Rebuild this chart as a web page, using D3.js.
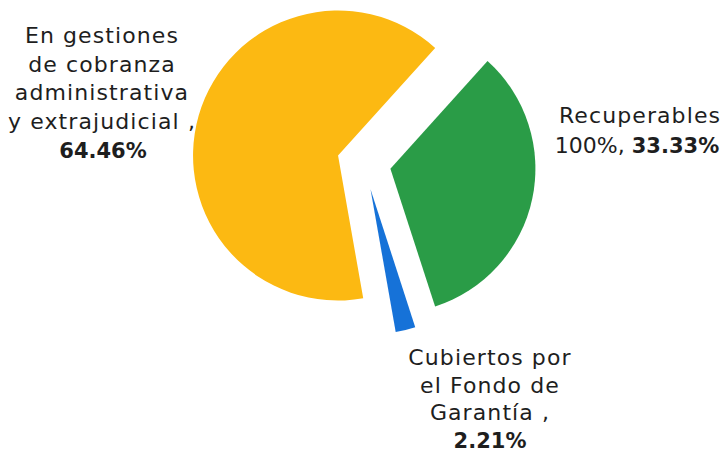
<!DOCTYPE html>
<html>
<head>
<meta charset="utf-8">
<script src="https://cdn.jsdelivr.net/npm/d3@7"></script>
<style>
  html, body { margin: 0; padding: 0; background: #ffffff; }
  svg { display: block; }
  text { font-family: "DejaVu Sans", "Noto Sans", sans-serif; fill: #1e1e1e; }
</style>
</head>
<body>
<svg id="chart" width="727" height="454"></svg>
<script>
// Portfolio composition, in percent
const categories = ["En gestiones de cobranza administrativa y extrajudicial", "Recuperables 100%", "Cubiertos por el Fondo de Garantía"];
const values = [64.46, 33.33, 2.21];
const colors = ["#FCB912", "#2A9C47", "#1672D8"];
const labelLines = [
  ["En gestiones", "de cobranza", "administrativa", "y extrajudicial ,"],
  ["Recuperables"],
  ["Cubiertos por", "el Fondo de", "Garantía ,"]
];
const valueLabels = ["64.46%", "33.33%", "2.21%"];

const svg = d3.select("#chart");
const cx = 364, cy = 163, radius = 145, explode = 27;

const pie = d3.pie().sort(null).value(d => d)
  .startAngle(170 * Math.PI / 180)
  .endAngle(530 * Math.PI / 180);
const arc = d3.arc().innerRadius(0).outerRadius(radius);

const arcs = pie(values);
const g = svg.append("g").attr("transform", `translate(${cx},${cy})`);
g.selectAll("path").data(arcs).join("path")
  .attr("d", arc)
  .attr("fill", (d, i) => colors[i])
  .attr("transform", d => {
    const a = (d.startAngle + d.endAngle) / 2;
    return `translate(${Math.sin(a) * explode},${-Math.cos(a) * explode})`;
  });

// Labels
const fs = 22, ls = 1.1, lh = 28.5;
function block(x, y, lines, step) {
  const t = svg.append("text").attr("text-anchor", "middle").attr("font-size", fs);
  lines.forEach((l, i) => {
    t.append("tspan").attr("x", x).attr("y", y + i * step)
      .attr("letter-spacing", ls).text(l);
  });
  return t;
}
function boldLine(t, x, y, s) {
  t.append("tspan").attr("x", x).attr("y", y)
    .attr("font-weight", "bold").attr("font-size", 21).attr("letter-spacing", 0).text(s);
}

// Left
const left = block(102, 43, labelLines[0], lh);
boldLine(left, 103, 43 + 4 * lh + 1, valueLabels[0]);

// Right
const right = block(640, 123, labelLines[1], lh);
right.append("tspan").attr("x", 637).attr("y", 153).attr("letter-spacing", 0).text("100%, ");
right.append("tspan").attr("font-weight", "bold").attr("font-size", 21).attr("letter-spacing", 0).text(valueLabels[1]);

// Bottom
const bottom = block(490, 365, labelLines[2], 27.5);
boldLine(bottom, 490, 365 + 3 * 27.5, valueLabels[2]);
</script>
</body>
</html>
